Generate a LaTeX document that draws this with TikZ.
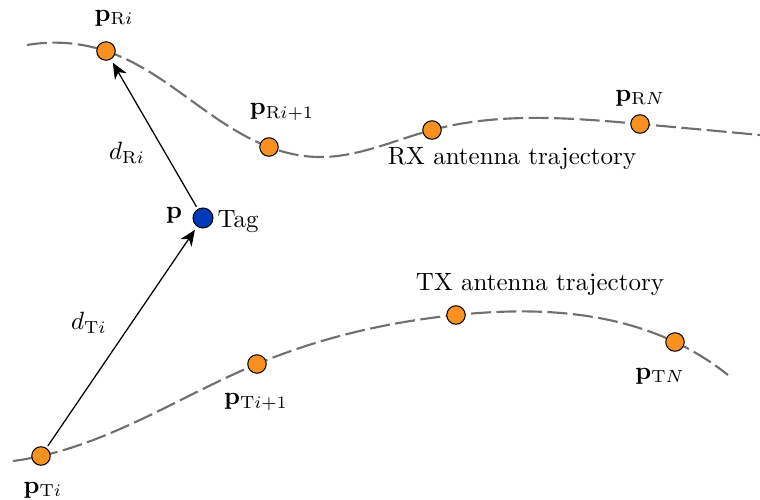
\documentclass[tikz,border=0pt]{standalone}
\usetikzlibrary{arrows.meta,hobby}
\definecolor{trajgray}{RGB}{112,112,112}
\definecolor{antorange}{RGB}{248,145,32}
\definecolor{tagblue}{RGB}{0,58,186}
\begin{document}
\begin{tikzpicture}[x=0.4pt,y=-0.4pt,
  traj/.style={draw=trajgray,line width=0.85pt,dash pattern=on 8pt off 2.2pt},
  ant/.style={circle,draw=black,line width=0.4pt,fill=antorange,minimum size=7.4pt,inner sep=0pt},
  tagdot/.style={circle,draw=black,line width=0.4pt,fill=tagblue,minimum size=8pt,inner sep=0pt},
  lbl/.style={inner sep=0pt},
  vec/.style={-{Stealth[length=6.4pt,width=5.4pt,inset=2pt]},line width=0.5pt,shorten >=1.5pt,shorten <=1pt}]
\useasboundingbox (0,0) rectangle (760,500);
% RX trajectory
\coordinate (r0) at (27,45);
\coordinate (r1) at (106,51);
\coordinate (r2) at (269,147);
\coordinate (r3) at (318,157);
\coordinate (r4) at (432,130);
\coordinate (r5) at (640,124);
\coordinate (r6) at (760,135);
\draw[traj,use Hobby shortcut] (r0) .. (r1) .. (r2) .. (r3) .. (r4) .. (r5) .. (r6);
% TX trajectory
\coordinate (t0) at (13,461);
\coordinate (t1) at (41,456);
\coordinate (t3) at (257,364);
\coordinate (t4) at (456,315);
\coordinate (t5) at (675,342);
\coordinate (t6) at (728,375);
\draw[traj,use Hobby shortcut] (t0) .. (t1) .. (t3) .. (t4) .. (t5) .. (t6);
% antenna positions
\node[ant] (pRi) at (r1) {};
\node[ant] (pRii) at (r2) {};
\node[ant] (pRm) at (r4) {};
\node[ant] (pRN) at (r5) {};
\node[ant] (pTi) at (t1) {};
\node[ant] (pTii) at (t3) {};
\node[ant] (pTm) at (t4) {};
\node[ant] (pTN) at (t5) {};
% tag
\node[tagdot] (tag) at (203,218) {};
\node[lbl] (plbl) at (174,215) {$\mathbf{p}$};
\node[lbl,anchor=west] (taglbl) at (217,222) {Tag};
% arrows
\draw[vec] (tag) -- (pRi);
\draw[vec] (pTi) -- (tag);
% labels
\node[lbl] (lRi) at (114,18) {$\mathbf{p}_{\mathrm{R}i}$};
\node[lbl] (lRii) at (282,112) {$\mathbf{p}_{\mathrm{R}i+1}$};
\node[lbl] (lRN) at (640,98) {$\mathbf{p}_{\mathrm{R}N}$};
\node[lbl] (lRX) at (512,159) {RX antenna trajectory};
\node[lbl] (lTi) at (43,490) {$\mathbf{p}_{\mathrm{T}i}$};
\node[lbl] (lTii) at (256,402) {$\mathbf{p}_{\mathrm{T}i+1}$};
\node[lbl] (lTN) at (660,376) {$\mathbf{p}_{\mathrm{T}N}$};
\node[lbl] (lTX) at (540,285) {TX antenna trajectory};
\node[lbl] (dR) at (127,153) {$d_{\mathrm{R}i}$};
\node[lbl] (dT) at (89,323) {$d_{\mathrm{T}i}$};
\end{tikzpicture}
\end{document}
